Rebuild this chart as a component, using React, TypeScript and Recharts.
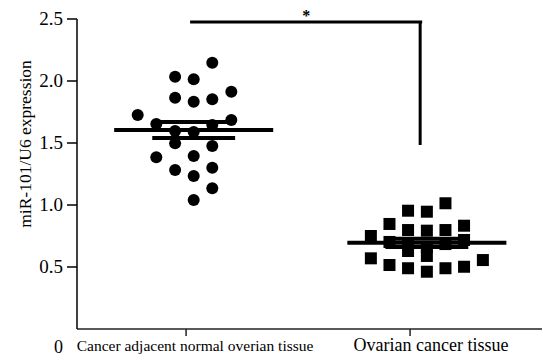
import { ScatterChart, Scatter, XAxis, YAxis, ReferenceLine } from 'recharts'

const CATEGORIES = ['Cancer adjacent normal overian tissue', 'Ovarian cancer tissue']
const Y_TICKS = [0, 0.5, 1.0, 1.5, 2.0, 2.5]

// x = jittered position around the group (1 = normal tissue, 2 = cancer tissue)
const normalX = [
  1.117, 0.951, 1.034, 1.202, 0.951, 1.034, 1.117, 0.784, 1.202, 0.867, 0.951,
  1.034, 1.117, 0.951, 1.117, 0.867, 1.034, 0.951, 1.117, 1.034, 1.117, 1.034,
]
const normalY = [
  2.148, 2.035, 2.014, 1.914, 1.865, 1.833, 1.852, 1.726, 1.685, 1.653, 1.597,
  1.589, 1.645, 1.497, 1.476, 1.385, 1.395, 1.282, 1.301, 1.234, 1.135, 1.04,
]
const cancerX = [
  2.158, 1.991, 2.075, 1.908, 2.241, 1.825, 1.991, 2.075, 2.158, 1.908, 1.991, 2.075,
  2.158, 2.241, 2.075, 1.991, 1.825, 1.908, 1.991, 2.075, 2.158, 2.241, 2.325,
]
const cancerY = [
  1.014, 0.954, 0.946, 0.847, 0.833, 0.75, 0.798, 0.793, 0.798, 0.702, 0.685, 0.661,
  0.685, 0.718, 0.589, 0.629, 0.57, 0.516, 0.49, 0.462, 0.49, 0.502, 0.556,
]

const FONT = '"Liberation Serif", "Times New Roman", serif'
const GROUP_CENTER = [1.034, 2.075]
const MEAN_HALF = 0.355
const SEM_HALF = 0.185

const mean = (a: number[]) => a.reduce((s, v) => s + v, 0) / a.length
const sem = (a: number[]) => {
  const m = mean(a)
  const sd = Math.sqrt(a.reduce((s, v) => s + (v - m) ** 2, 0) / (a.length - 1))
  return sd / Math.sqrt(a.length)
}

const normalData = normalX.map((x, i) => ({ x, y: normalY[i] }))
const cancerData = cancerX.map((x, i) => ({ x, y: cancerY[i] }))

const groups = [normalY, cancerY].map((vals, i) => ({
  c: GROUP_CENTER[i],
  m: mean(vals),
  s: sem(vals),
}))

const Dot = (p: any) => <circle cx={p.cx} cy={p.cy} r={6} fill="#000" />
const Square = (p: any) => <rect x={p.cx - 6} y={p.cy - 6} width={12} height={12} fill="#000" />

function YTick({ x, y, payload }: any) {
  if (payload.value === 0) {
    return (
      <text x={x} y={y + 23.5} textAnchor="end" fontFamily={FONT} fontSize={18} fill="#000">
        0
      </text>
    )
  }
  return (
    <g>
      <line x1={x + 4} x2={x + 14} y1={y} y2={y} stroke="#000" strokeWidth={1.5} />
      <text x={x} y={y} dy="0.34em" textAnchor="end" fontFamily={FONT} fontSize={19} fill="#000">
        {payload.value.toFixed(1)}
      </text>
    </g>
  )
}

function XTick({ x, y, payload }: any) {
  const idx = payload.value - 1
  const size = idx === 0 ? 15.5 : 18
  const dx = idx === 0 ? 9 : 21
  return (
    <text x={x + dx} y={y + 13} textAnchor="middle" fontFamily={FONT} fontSize={size} fill="#000">
      {CATEGORIES[idx]}
    </text>
  )
}

const yLabel = () => (
  <text
    x={25}
    y={144}
    transform="rotate(-90 25 144)"
    textAnchor="middle"
    dominantBaseline="central"
    fontFamily={FONT}
    fontSize={17.5}
    fill="#000"
  >
    miR-101/U6 expression
  </text>
)

export default function App() {
  return (
    <div style={{ position: 'absolute', left: 0, top: 0, background: '#fff' }}>
      <ScatterChart width={543} height={363} margin={{ top: 19, right: 1, bottom: 0, left: 0 }}>
        <XAxis
          type="number"
          dataKey="x"
          domain={[0.513, 2.589]}
          ticks={[1, 2]}
          tick={<XTick />}
          tickSize={7}
          tickMargin={2}
          height={34}
          axisLine={{ stroke: '#222', strokeWidth: 1.5 }}
          tickLine={{ stroke: '#222', strokeWidth: 1.5 }}
          allowDataOverflow
        />
        <YAxis
          type="number"
          dataKey="y"
          domain={[0, 2.5]}
          ticks={Y_TICKS}
          tick={<YTick />}
          tickLine={false}
          tickSize={10}
          tickMargin={4}
          width={77}
          axisLine={{ stroke: '#000', strokeWidth: 1.5 }}
          label={yLabel}
          allowDataOverflow
        />
        <Scatter data={normalData} shape={Dot} isAnimationActive={false} />
        <Scatter data={cancerData} shape={Square} isAnimationActive={false} />
        {groups.map((g, i) => (
          <ReferenceLine
            key={'m' + i}
            segment={[{ x: g.c - MEAN_HALF, y: g.m }, { x: g.c + MEAN_HALF, y: g.m }]}
            stroke="#000"
            strokeWidth={4}
          />
        ))}
        {groups.map((g, i) => (
          <ReferenceLine
            key={'su' + i}
            segment={[{ x: g.c - SEM_HALF, y: g.m + g.s }, { x: g.c + SEM_HALF, y: g.m + g.s }]}
            stroke="#000"
            strokeWidth={4}
          />
        ))}
        {groups.map((g, i) => (
          <ReferenceLine
            key={'sl' + i}
            segment={[{ x: g.c - SEM_HALF, y: g.m - g.s }, { x: g.c + SEM_HALF, y: g.m - g.s }]}
            stroke="#000"
            strokeWidth={4}
          />
        ))}
        <ReferenceLine
          segment={[{ x: 1.018, y: 2.476 }, { x: 2.054, y: 2.476 }]}
          stroke="#000"
          strokeWidth={3}
          label={{ value: '*', position: 'top', offset: 1, fontFamily: FONT, fontSize: 16, fontWeight: 'bold', fill: '#000' }}
        />
        <ReferenceLine
          segment={[{ x: 2.045, y: 2.476 }, { x: 2.045, y: 1.484 }]}
          stroke="#000"
          strokeWidth={3}
        />
      </ScatterChart>
    </div>
  )
}
